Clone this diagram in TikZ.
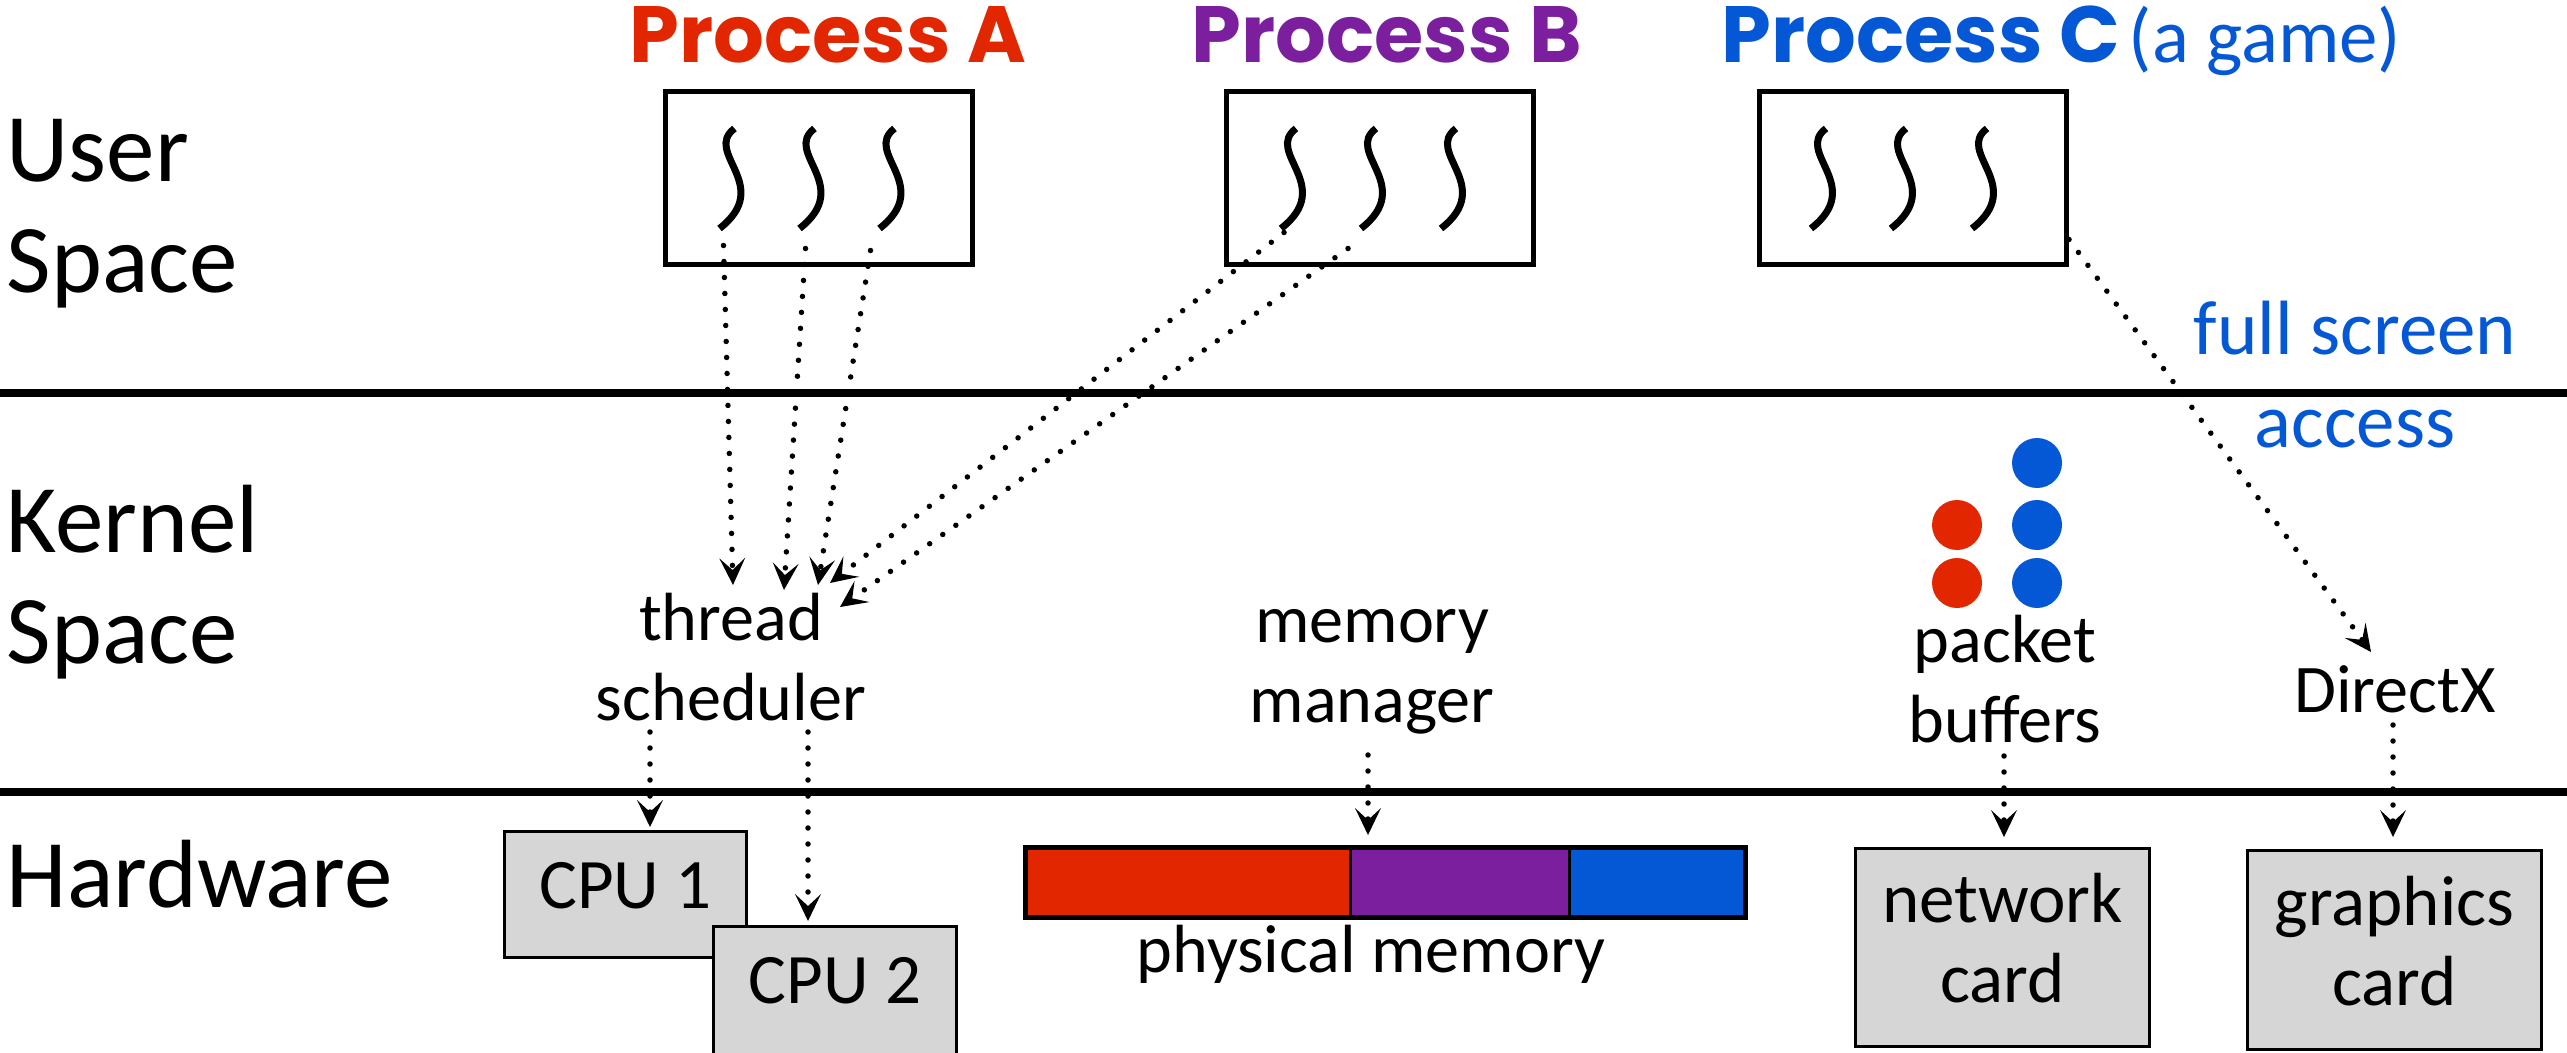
\documentclass[tikz,border=0pt]{standalone}
\usepackage{fontspec}
\setmainfont{Carlito}
\newfontfamily\procfam{Poppins}
\usetikzlibrary{arrows.meta,calc}

\definecolor{pred}{RGB}{226,38,0}
\definecolor{ppurple}{RGB}{123,31,158}
\definecolor{pblue}{RGB}{4,88,214}
\definecolor{cardgray}{RGB}{214,214,214}

\newcommand\sidelab{\fontsize{27.6}{31.3}\selectfont}
\newcommand\smalllab{\fontsize{19.4}{22.5}\selectfont}
\newcommand\cardlab{\fontsize{20.2}{22.5}\selectfont}
\newcommand\bluelab{\fontsize{21.9}{26.2}\selectfont}
\newcommand\proclab{\procfam\bfseries\fontsize{22.7}{27}\selectfont}

\begin{document}
\begin{tikzpicture}[x=0.1mm, y=-0.1mm,
  side/.style={anchor=base west, align=left, inner sep=0pt, font=\sidelab},
  lab/.style={anchor=base, align=center, inner sep=0pt, font=\smalllab},
  bluetxt/.style={inner sep=0pt, font=\bluelab, text=pblue},
  proc/.style={anchor=base, inner sep=0pt, font=\proclab},
  procbox/.style={draw, line width=0.5mm, minimum width=30.7mm, minimum height=17.3mm, inner sep=0pt},
  card/.style={draw, fill=cardgray, line width=0.3mm, inner sep=0pt, align=center, font=\cardlab},
  divider/.style={line width=0.75mm},
  flow/.style={line width=0.55mm, line cap=round, dash pattern=on 0pt off 1.6mm,
    -{Stealth[length=2.7mm,width=2.6mm,inset=1.2mm,line width=0pt]}},
  strand/.pic={\draw[line width=0.7mm] (4,-50) .. controls (-28,-26) and (44,7) .. (-11,50);
               \coordinate (-end) at (-11,50);}
]
\clip (0,0) rectangle (2567,1053);

% layer boundaries
\draw[divider] (0,393) -- (2567,393);
\draw[divider] (0,792) -- (2567,792);

% layer names (base anchor sits on the last line)
\node[side] (us) at (6,292) {User\\Space};
\node[side] (ks) at (6,663) {Kernel\\Space};
\node[side] (hw) at (6,907) {Hardware};

% processes
\node[proc, text=pred] (pa) at (828,63) {Process A};
\node[proc, text=ppurple] (pbt) at (1387,63) {Process B};
\node[proc, text=pblue] (pct) at (1921,63) {Process C};
\node[bluetxt, anchor=base west] (game) at (2128,63) {(a game)};

\node[procbox] (boxA) at (818.5,178.5) {};
\node[procbox] (boxB) at (1380,178.5) {};
\node[procbox] (boxC) at (1913,178.5) {};

\pic (a1) at ($(boxA)+(-88,0)$) {strand};
\pic (a2) at ($(boxA)+(-8,0)$) {strand};
\pic (a3) at ($(boxA)+(72,0)$) {strand};
\pic (b1) at ($(boxB)+(-88,0)$) {strand};
\pic (b2) at ($(boxB)+(-8,0)$) {strand};
\pic (b3) at ($(boxB)+(72,0)$) {strand};
\pic (c1) at ($(boxC)+(-91,0)$) {strand};
\pic (c2) at ($(boxC)+(-11,0)$) {strand};
\pic (c3) at ($(boxC)+(70,0)$) {strand};

\node[bluetxt, anchor=base, align=center] (fs) at (2355,447) {full screen\\access};

% kernel services
\node[lab] (sched) at (731,720) {thread\\scheduler};
\node[lab] (mm) at (1372,722) {memory\\manager};
\node[lab] (pb) at (2005,742) {packet\\buffers};
\node[lab] (dx) at (2395,712) {DirectX};

\fill[pred] (1957,525) circle[radius=25];
\fill[pred] (1957,583) circle[radius=25];
\fill[pblue] (2037,463) circle[radius=25];
\fill[pblue] (2037,525) circle[radius=25];
\fill[pblue] (2037,583) circle[radius=25];

% hardware
\node[card, minimum width=24.2mm, text height=7.65mm, text depth=4.95mm, anchor=north] (cpu1) at (625.5,830) {CPU 1};
\node[card, minimum width=24.3mm, text height=7.65mm, text depth=9mm, anchor=north] (cpu2) at (835,925) {CPU 2};

\fill[pred] (1023,845) rectangle (1350,920);
\fill[ppurple] (1350,845) rectangle (1569,920);
\fill[pblue] (1569,845) rectangle (1748,920);
\node[draw, line width=0.5mm, minimum width=72mm, minimum height=7mm, inner sep=0pt] (mem) at (1385.5,882.5) {};
\draw[line width=0.3mm] (1350,845) -- (1350,920);
\draw[line width=0.3mm] (1569,845) -- (1569,920);
\node[lab] (pm) at (1371,972) {physical memory};

\node[card, minimum width=29.4mm, text height=15.35mm, text depth=4.45mm, anchor=north] (nc) at (2002.5,847) {network\\card};
\node[card, minimum width=29.4mm, text height=15.45mm, text depth=4.45mm, anchor=north] (gc) at (2394.5,849) {graphics\\card};

% thread scheduling
\draw[flow] ($(a1-end)+(4,17)$) -- ($(sched.base)+(2,-135)$);
\draw[flow] ($(a2-end)+(6,20)$) -- ($(sched.base)+(53,-130)$);
\draw[flow] ($(a3-end)+(-9,22)$) -- ($(sched.base)+(87,-135)$);
\draw[flow] ($(b1-end)+(3,4)$) -- ($(sched.base)+(99,-137)$);
\draw[flow] ($(b2-end)+(-13,20)$) -- ($(sched.base)+(109,-113)$);
\draw[flow] ($(boxC.south east)+(0,-28)$) -- ($(dx.base)+(-24,-60)$);

\draw[flow] ($(sched.base)+(-81,12)$) -- ($(sched.base |- cpu1.north)+(-81,-3)$);
\draw[flow] ($(sched.base)+(77,12)$) -- ($(sched.base |- cpu2.north)+(77,-4)$);
\draw[flow] ($(mm.base)+(-4,33)$) -- ($(mm.base |- mem.north)+(-4,-10)$);
\draw[flow] ($(pb.base)+(-1,14)$) -- ($(pb.base |- nc.north)+(-1,-10)$);
\draw[flow] ($(dx.base)+(-2,13)$) -- ($(dx.base |- gc.north)+(-2,-12)$);
\end{tikzpicture}
\end{document}
